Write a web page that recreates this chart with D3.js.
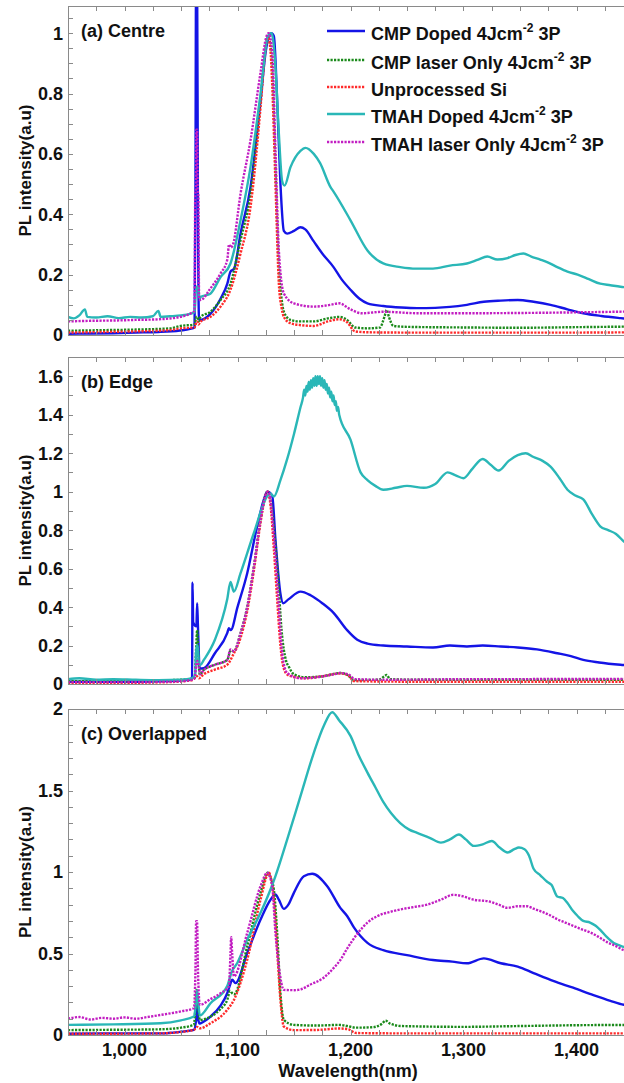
<!DOCTYPE html>
<html><head><meta charset="utf-8">
<script src="https://cdn.jsdelivr.net/npm/d3@7"></script>
<style>body{margin:0;background:#fff}svg{display:block}text{font-family:"Liberation Sans",Arial,sans-serif;font-weight:bold;fill:#111}</style>
</head><body>
<svg id="c" width="624" height="1083"></svg>
<script>
// ---------- DATA ----------
const seriesNames = ["CMP Doped 4Jcm|-2| 3P","CMP laser Only 4Jcm|-2| 3P","Unprocessed Si","TMAH Doped 4Jcm|-2| 3P","TMAH laser Only 4Jcm|-2| 3P"];
const seriesColors = ["#1414e6","#1b8a1b","#ff2a2a","#2ab7b7","#c21ec2"];
const seriesDotted = [false,true,true,false,true];
const panelTitles = ["(a) Centre","(b) Edge","(c) Overlapped"];
const xDomain = [950,1450];
const xTickValues = d3.range(950,1451,25);
const xLabelValues = [1000,1100,1200,1300,1400];
const yDomains = [[0,1.09],[0,1.7],[0,2]];
const yLabelValues = [[0,0.2,0.4,0.6,0.8,1],[0,0.2,0.4,0.6,0.8,1,1.2,1.4,1.6],[0,0.5,1,1.5,2]];
const yMinorStep = [0.05,0.1,0.1];

// (a) Centre
const centreCMPDoped = [[950,0.004],[970,0.005],[990,0.006],[1010,0.008],[1030,0.01],[1049,0.015],[1058,0.02],[1062,0.025],[1062.8,0.5],[1063.3,1.15],[1064.3,1.15],[1065,0.4],[1066,0.05],[1067.3,0.05],[1076,0.07],[1085,0.12],[1091,0.17],[1093.8,0.21],[1097,0.22],[1102.7,0.336],[1111.5,0.49],[1120.4,0.777],[1125,0.94],[1127.7,0.99],[1130,1.0],[1132.2,0.99],[1135.1,0.777],[1138,0.5],[1141,0.345],[1143.9,0.336],[1150,0.345],[1155.7,0.357],[1160,0.35],[1167.5,0.31],[1175,0.27],[1185,0.225],[1192,0.185],[1200,0.15],[1208,0.12],[1215,0.105],[1229,0.096],[1245,0.091],[1259,0.089],[1275,0.09],[1288,0.093],[1303,0.1],[1318,0.11],[1333,0.114],[1348,0.116],[1362,0.11],[1377,0.1],[1392,0.085],[1406,0.072],[1422,0.063],[1439,0.056],[1450,0.052]];
const centreCMPLaser = [[950,0.014],[980,0.016],[1010,0.018],[1040,0.022],[1049.6,0.03],[1062,0.035],[1063.5,0.06],[1064.5,0.06],[1065.5,0.045],[1067.3,0.06],[1076,0.077],[1085,0.116],[1093.8,0.17],[1102.7,0.314],[1111.5,0.468],[1120.4,0.777],[1124,0.93],[1126.8,0.99],[1129,0.96],[1130.7,0.887],[1133.6,0.556],[1136.6,0.226],[1139,0.12],[1141,0.077],[1146.9,0.05],[1155,0.045],[1167.5,0.045],[1180,0.055],[1190,0.06],[1197,0.05],[1204,0.025],[1215,0.022],[1226,0.025],[1230,0.06],[1232,0.083],[1234,0.06],[1238,0.03],[1250,0.027],[1300,0.025],[1350,0.024],[1400,0.026],[1450,0.028]];
const centreUnprocessed = [[950,0.008],[980,0.01],[1010,0.012],[1040,0.016],[1049.6,0.022],[1062,0.025],[1064,0.045],[1065.5,0.035],[1067.3,0.044],[1076,0.06],[1085,0.094],[1093.8,0.15],[1102.7,0.27],[1111.5,0.424],[1120.4,0.755],[1124,0.92],[1126.8,0.99],[1129,0.95],[1130.7,0.83],[1133.6,0.5],[1136.6,0.17],[1139,0.09],[1141,0.06],[1146.9,0.039],[1155,0.033],[1167.5,0.03],[1180,0.045],[1190,0.052],[1197,0.042],[1204,0.012],[1215,0.009],[1250,0.008],[1300,0.008],[1350,0.008],[1400,0.008],[1450,0.009]];
const centreTMAHDoped = [[950,0.06],[955,0.055],[960,0.065],[965,0.085],[967,0.06],[975,0.058],[985,0.062],[995,0.056],[1005,0.06],[1015,0.058],[1025,0.062],[1030,0.08],[1032,0.06],[1040,0.062],[1050,0.065],[1058,0.07],[1062,0.075],[1063.5,0.16],[1065,0.16],[1066.5,0.12],[1067.3,0.126],[1076,0.137],[1085,0.192],[1093.8,0.237],[1102.7,0.38],[1111.5,0.556],[1120.4,0.8],[1126.8,0.99],[1129.8,1.0],[1131,0.99],[1133.6,0.887],[1136.6,0.667],[1139.5,0.51],[1141.6,0.495],[1146.9,0.556],[1155.7,0.61],[1160.2,0.62],[1167.5,0.6],[1173,0.57],[1182.3,0.49],[1185,0.475],[1200,0.38],[1215,0.28],[1229,0.237],[1244,0.225],[1258,0.22],[1273,0.22],[1288,0.23],[1303,0.237],[1313,0.25],[1321,0.26],[1330,0.25],[1339,0.255],[1346,0.265],[1353,0.27],[1360,0.26],[1368,0.25],[1375,0.24],[1383,0.225],[1392,0.21],[1401,0.2],[1411,0.185],[1421,0.17],[1430,0.165],[1439,0.16],[1450,0.155]];
const centreTMAHLaser = [[950,0.045],[970,0.047],[990,0.048],[1010,0.05],[1030,0.052],[1049.6,0.06],[1060,0.075],[1062,0.08],[1062.6,0.47],[1063.2,0.48],[1063.6,0.68],[1064.3,0.68],[1064.8,0.48],[1065.4,0.46],[1066,0.12],[1067.3,0.116],[1076,0.154],[1085,0.204],[1091,0.25],[1092.5,0.3],[1094,0.29],[1096,0.3],[1102.7,0.468],[1111.5,0.645],[1120.4,0.87],[1125.7,0.99],[1127.5,1.0],[1130.7,0.94],[1133.6,0.61],[1136.6,0.28],[1141,0.138],[1149.8,0.105],[1167.5,0.094],[1182.3,0.1],[1190,0.105],[1200,0.085],[1210,0.072],[1229,0.077],[1260,0.072],[1300,0.072],[1350,0.073],[1400,0.075],[1450,0.078]];

// (b) Edge
const edgeCMPDoped = [[950,0.012],[980,0.012],[1010,0.012],[1040,0.015],[1055,0.02],[1059.8,0.03],[1060.2,0.526],[1060.8,0.32],[1063.6,0.3],[1064.3,0.42],[1065,0.3],[1066.5,0.08],[1070.2,0.082],[1080,0.16],[1090.9,0.264],[1092.4,0.29],[1094,0.28],[1100,0.4],[1108.6,0.576],[1117.4,0.82],[1123.3,0.958],[1126.3,1.0],[1130.7,0.98],[1133.6,0.75],[1138,0.47],[1140.4,0.42],[1145,0.44],[1155.8,0.48],[1165,0.46],[1175,0.42],[1185,0.37],[1197,0.28],[1206,0.23],[1215,0.21],[1229,0.2],[1250,0.195],[1273,0.19],[1288,0.2],[1303,0.195],[1317,0.2],[1333,0.195],[1348,0.19],[1365,0.18],[1383,0.16],[1395,0.145],[1406,0.125],[1420,0.112],[1439,0.1],[1450,0.095]];
const edgeCMPLaser = [[950,0.015],[1000,0.015],[1040,0.02],[1058,0.025],[1062,0.03],[1063.5,0.2],[1064.3,0.28],[1065,0.2],[1066.5,0.05],[1070.2,0.073],[1080,0.1],[1090.9,0.125],[1094,0.175],[1096.8,0.17],[1102.7,0.264],[1108.6,0.4],[1114.5,0.61],[1120.4,0.854],[1124.5,0.976],[1126.5,1.0],[1130.2,0.92],[1133.1,0.75],[1136,0.54],[1139,0.28],[1143,0.12],[1145.4,0.09],[1150,0.05],[1160,0.035],[1175,0.04],[1191.2,0.057],[1198,0.045],[1203,0.021],[1225,0.022],[1230,0.04],[1232,0.047],[1235,0.025],[1260,0.022],[1350,0.022],[1450,0.022]];
const edgeUnprocessed = [[950,0.005],[1000,0.006],[1040,0.01],[1060,0.02],[1064,0.04],[1066,0.03],[1070,0.05],[1080,0.075],[1090.9,0.1],[1096,0.15],[1102.7,0.24],[1108.6,0.38],[1114.5,0.59],[1120.4,0.84],[1124.5,0.97],[1126.5,1.0],[1129.2,0.93],[1132.2,0.7],[1135,0.45],[1138,0.2],[1141,0.08],[1145,0.045],[1160,0.03],[1175,0.04],[1191.2,0.055],[1198,0.045],[1203,0.015],[1250,0.012],[1350,0.012],[1450,0.012]];
const edgeTMAHDoped = [[950,0.025],[960,0.03],[975,0.022],[990,0.025],[1010,0.022],[1030,0.02],[1050,0.022],[1060,0.03],[1062.5,0.05],[1063.7,0.2],[1064.7,0.2],[1066,0.1],[1067.3,0.1],[1070.2,0.125],[1080,0.23],[1090.9,0.44],[1093.8,0.53],[1096.8,0.48],[1102.7,0.576],[1114.5,0.785],[1126.3,0.976],[1129,0.99],[1132.2,0.975],[1138,1.06],[1144,1.17],[1150,1.3],[1155.8,1.44],[1158,1.49],[1159,1.53],[1160,1.5],[1161,1.55],[1162,1.52],[1163,1.57],[1164,1.53],[1165,1.58],[1166,1.54],[1167,1.59],[1168,1.55],[1169,1.6],[1170,1.55],[1171,1.6],[1172,1.56],[1173,1.6],[1174,1.55],[1175,1.59],[1176,1.54],[1177,1.58],[1178,1.53],[1179,1.56],[1180,1.51],[1181,1.54],[1182,1.49],[1183,1.52],[1184,1.47],[1185,1.5],[1186,1.45],[1187,1.47],[1188,1.42],[1189,1.44],[1190,1.4],[1200,1.27],[1208.9,1.1],[1215,1.06],[1222,1.03],[1229,1.01],[1240,1.02],[1250,1.03],[1265,1.02],[1275,1.04],[1286,1.1],[1293,1.085],[1300,1.07],[1308,1.12],[1317,1.17],[1324,1.14],[1331,1.11],[1340,1.16],[1348,1.19],[1355,1.2],[1362,1.18],[1370,1.16],[1377,1.13],[1385,1.07],[1392,1.01],[1399,0.98],[1406,0.96],[1414,0.88],[1421,0.82],[1428,0.8],[1435,0.78],[1442,0.74],[1450,0.7]];
const edgeTMAHLaser = [[950,0.01],[1000,0.01],[1040,0.012],[1058,0.02],[1062,0.03],[1063.5,0.1],[1064.5,0.12],[1065.5,0.1],[1067,0.05],[1070.2,0.073],[1080,0.1],[1090.9,0.125],[1093.8,0.18],[1096.8,0.17],[1102.7,0.264],[1108.6,0.4],[1114.5,0.61],[1120.4,0.854],[1124.5,0.976],[1126.5,1.0],[1128.5,0.98],[1130.7,0.875],[1133.6,0.66],[1136.6,0.4],[1139.5,0.16],[1144,0.057],[1155.8,0.03],[1170,0.035],[1185,0.05],[1191.2,0.057],[1198,0.05],[1204,0.025],[1230,0.022],[1300,0.025],[1400,0.026],[1450,0.027]];

// (c) Overlapped
const overlapCMPDoped = [[950,0.008],[990,0.01],[1031.9,0.01],[1050,0.02],[1061.4,0.031],[1063.5,0.1],[1064.3,0.19],[1065.2,0.1],[1066.5,0.07],[1067.3,0.072],[1076.1,0.113],[1085,0.18],[1090.9,0.256],[1093.5,0.31],[1095.3,0.34],[1098.2,0.318],[1108.6,0.503],[1120.4,0.708],[1129.2,0.83],[1133.6,0.862],[1136.6,0.83],[1141,0.774],[1145,0.8],[1149.9,0.872],[1158.7,0.974],[1166.1,0.989],[1179.4,0.913],[1191,0.78],[1197,0.73],[1203,0.66],[1215,0.565],[1229,0.52],[1250,0.49],[1273,0.46],[1290,0.45],[1303,0.44],[1318,0.47],[1333,0.44],[1348,0.42],[1362,0.38],[1380,0.33],[1397,0.29],[1415,0.245],[1430,0.21],[1442,0.185],[1450,0.175]];
const overlapCMPLaser = [[950,0.03],[990,0.032],[1031.9,0.035],[1050,0.045],[1061.4,0.062],[1063,0.2],[1063.7,0.277],[1064.8,0.2],[1066.7,0.092],[1076.1,0.113],[1085,0.16],[1090.9,0.215],[1093.5,0.27],[1095.3,0.256],[1097,0.25],[1108.6,0.544],[1120.4,0.872],[1126.9,0.995],[1129,0.97],[1132.2,0.89],[1135.1,0.626],[1138,0.256],[1141,0.092],[1149.9,0.062],[1170,0.058],[1190,0.062],[1197,0.055],[1205,0.045],[1220,0.048],[1228,0.07],[1231,0.088],[1235,0.07],[1245,0.055],[1300,0.05],[1350,0.055],[1400,0.06],[1450,0.062]];
const overlapUnprocessed = [[950,0.008],[990,0.008],[1031.9,0.01],[1061.4,0.031],[1064.3,0.05],[1066.7,0.041],[1076.1,0.072],[1090.9,0.154],[1096.8,0.215],[1108.6,0.462],[1120.4,0.83],[1127.8,0.995],[1130,0.95],[1132.2,0.83],[1135.1,0.523],[1138,0.215],[1141,0.052],[1149.9,0.03],[1170,0.031],[1190,0.04],[1198,0.035],[1205,0.012],[1250,0.01],[1350,0.01],[1450,0.01]];
const overlapTMAHDoped = [[950,0.062],[990,0.065],[1031.9,0.072],[1050,0.09],[1061.4,0.113],[1063.3,0.2],[1064.3,0.277],[1065.5,0.18],[1066.7,0.12],[1076.1,0.195],[1090.9,0.3],[1095,0.39],[1099.7,0.44],[1108.6,0.585],[1120.4,0.75],[1129.2,0.893],[1133.6,0.975],[1144,1.2],[1155.8,1.467],[1167.6,1.733],[1176.4,1.897],[1183.8,1.98],[1190,1.93],[1200,1.835],[1207,1.72],[1215,1.61],[1222,1.52],[1229,1.43],[1236,1.36],[1244,1.3],[1252,1.26],[1259,1.24],[1270,1.21],[1280,1.18],[1288,1.2],[1296,1.23],[1302,1.2],[1309,1.16],[1317,1.17],[1325,1.19],[1332,1.15],[1339,1.12],[1345,1.14],[1349,1.15],[1354,1.14],[1358,1.1],[1362,1.02],[1368,0.98],[1374,0.94],[1378,0.92],[1383,0.85],[1388,0.84],[1392,0.81],[1397,0.76],[1401,0.73],[1406,0.7],[1412,0.69],[1417,0.67],[1421,0.645],[1427,0.6],[1433,0.565],[1438,0.55],[1442,0.54],[1450,0.53]];
const overlapTMAHLaser = [[950,0.1],[960,0.11],[970,0.095],[980,0.105],[990,0.1],[1000,0.108],[1010,0.1],[1020,0.11],[1031.9,0.123],[1050,0.145],[1061.4,0.164],[1062.8,0.4],[1063.4,0.698],[1064.2,0.698],[1065,0.4],[1066.7,0.185],[1076.1,0.22],[1085,0.256],[1092.4,0.3],[1093.8,0.5],[1094.4,0.6],[1095.3,0.5],[1096.8,0.36],[1108.6,0.626],[1120.4,0.913],[1126.3,0.995],[1130.7,0.913],[1133.6,0.626],[1136.6,0.42],[1141,0.277],[1149.9,0.275],[1156,0.28],[1164.6,0.31],[1176,0.35],[1185,0.41],[1191,0.46],[1197,0.53],[1206,0.62],[1215,0.69],[1224,0.73],[1235,0.755],[1244,0.77],[1256,0.785],[1268,0.8],[1280,0.83],[1291,0.86],[1300,0.85],[1309,0.83],[1322,0.82],[1331,0.8],[1339,0.78],[1348,0.79],[1356,0.79],[1362,0.775],[1368,0.76],[1375,0.74],[1383,0.71],[1390,0.69],[1397,0.67],[1404,0.65],[1412,0.63],[1420,0.6],[1427,0.57],[1435,0.545],[1442,0.52],[1450,0.51]];

const panelSeries = [
  [centreCMPDoped, centreCMPLaser, centreUnprocessed, centreTMAHDoped, centreTMAHLaser],
  [edgeCMPDoped, edgeCMPLaser, edgeUnprocessed, edgeTMAHDoped, edgeTMAHLaser],
  [overlapCMPDoped, overlapCMPLaser, overlapUnprocessed, overlapTMAHDoped, overlapTMAHLaser]
];

// ---------- LAYOUT ----------
const left = 68, right = 633;
const tops = [6, 357, 709], bottoms = [335, 684, 1035];
const axisColor = "#8a8a8a";
const svg = d3.select("#c");
const x = d3.scaleLinear().domain(xDomain).range([left, right]);
const fmtX = d3.format(",");

panelSeries.forEach((series, p) => {
  const top = tops[p], bot = bottoms[p];
  const y = d3.scaleLinear().domain(yDomains[p]).range([bot, top]);
  const g = svg.append("g");
  const cid = "clip" + p;
  svg.append("defs").append("clipPath").attr("id", cid)
    .append("rect").attr("x", left).attr("y", top).attr("width", right - left).attr("height", bot - top);

  const line = d3.line().x(d => x(d[0])).y(d => y(d[1])).curve(d3.curveMonotoneX);
  const lg = g.append("g").attr("clip-path", `url(#${cid})`);
  series.forEach((data, s) => {
    lg.append("path").datum(data).attr("d", line)
      .attr("fill", "none").attr("stroke", seriesColors[s])
      .attr("stroke-width", 2.4)
      .attr("stroke-linejoin", "round")
      .attr("stroke-dasharray", seriesDotted[s] ? "2.2,1.3" : null);
  });

  // box
  const ax = g.append("g").attr("stroke", axisColor).attr("stroke-width", 1).attr("fill", "none");
  ax.append("line").attr("x1", left).attr("x2", right).attr("y1", top + 0.5).attr("y2", top + 0.5);
  ax.append("line").attr("x1", left).attr("x2", right).attr("y1", bot + 0.5).attr("y2", bot + 0.5);
  ax.append("line").attr("x1", left + 0.5).attr("x2", left + 0.5).attr("y1", top).attr("y2", bot);
  // x ticks (inward, top & bottom)
  xTickValues.forEach(v => {
    const px = Math.round(x(v)) + 0.5;
    ax.append("line").attr("x1", px).attr("x2", px).attr("y1", top).attr("y2", top + 5);
    ax.append("line").attr("x1", px).attr("x2", px).attr("y1", bot).attr("y2", bot - 5);
  });
  // y ticks
  const ymin = yDomains[p][0], ymax = yDomains[p][1];
  d3.range(ymin, ymax + 1e-9, yMinorStep[p]).forEach(v => {
    const py = Math.round(y(v)) + 0.5;
    ax.append("line").attr("x1", left).attr("x2", left + 5).attr("y1", py).attr("y2", py);
  });
  // y labels
  yLabelValues[p].forEach(v => {
    g.append("text").attr("x", 63).attr("y", y(v)).attr("dy", "0.36em")
      .attr("text-anchor", "end").attr("font-size", 18).text(String(+v.toFixed(2)));
  });
  // y title
  g.append("text").attr("transform", `translate(31,${(top + bot) / 2}) rotate(-90)`)
    .attr("text-anchor", "middle").attr("font-size", 17).text("PL intensity(a.u)");
  // panel title
  g.append("text").attr("x", 81).attr("y", top + 31).attr("font-size", 18).text(panelTitles[p]);

  if (p === 2) {
    xLabelValues.forEach(v => {
      g.append("text").attr("x", x(v)).attr("y", 1056).attr("text-anchor", "middle")
        .attr("font-size", 18).text(fmtX(v));
    });
    g.append("text").attr("x", 348).attr("y", 1077).attr("text-anchor", "middle")
      .attr("font-size", 18).text("Wavelength(nm)");
  }

  if (p === 0) {
    const lineYs = [31, 60, 87, 114, 142];
    const lgd = g.append("g");
    seriesNames.forEach((name, s) => {
      const ly = lineYs[s];
      lgd.append("line").attr("x1", 327).attr("x2", 365).attr("y1", ly).attr("y2", ly)
        .attr("stroke", seriesColors[s]).attr("stroke-width", 2.4)
        .attr("stroke-dasharray", seriesDotted[s] ? "2.2,1.3" : null);
      const parts = name.split("|");
      const t = lgd.append("text").attr("x", 371).attr("y", ly + 8.5).attr("font-size", 18);
      t.append("tspan").text(parts[0]);
      if (parts.length > 1) {
        t.append("tspan").attr("font-size", 12).attr("dy", -8).text(parts[1]);
        t.append("tspan").attr("dy", 8).text(parts[2]);
      }
    });
  }
});
</script>
</body></html>
